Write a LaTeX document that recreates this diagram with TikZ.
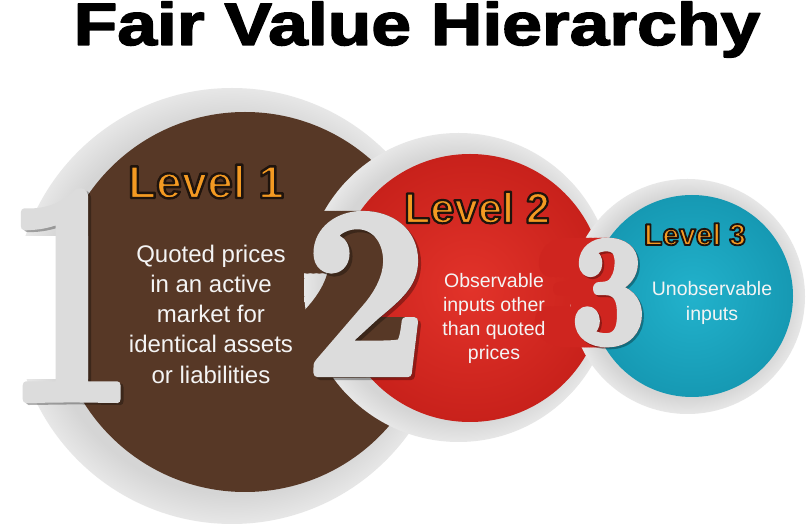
\documentclass[tikz,border=0pt]{standalone}
\usepackage{fontspec}
\usepackage{graphicx}
\newfontfamily\arial{Liberation Sans}
\definecolor{ringgrey}{HTML}{D5D5D5}
\definecolor{ringlight}{HTML}{E7E7E7}
\definecolor{brownc}{HTML}{573826}
\definecolor{redc}{HTML}{E2332A}
\definecolor{redd}{HTML}{C8211B}
\definecolor{redpocket}{HTML}{CF251F}
\definecolor{cyanc}{HTML}{22B2CC}
\definecolor{cyand}{HTML}{1699B3}
\definecolor{lvlorange}{HTML}{F49A22}
\definecolor{digitgrey}{HTML}{DCDCDC}
\definecolor{bodywhite}{HTML}{F4F4F4}
\pgfdeclareradialshading{ringsh}{\pgfpoint{0bp}{0bp}}{color(0bp)=(ringgrey); color(21.5bp)=(ringgrey); color(25bp)=(ringlight); color(50bp)=(ringlight)}
% text drawn with fill and stroke (PDF text render mode 2)
\newcommand\stroked[2]{\special{pdf:literal direct 2 Tr #1 w 1 j}#2\special{pdf:literal direct 0 Tr}}
\newcommand\outlined[3]{\special{pdf:literal direct 2 Tr #1 w 1 j #2 RG}#3\special{pdf:literal direct 0 Tr}}
\newcommand\digA{\scalebox{0.75}[1]{\stroked{8}{1}}}
\newcommand\digB{\scalebox{0.9}[1]{\stroked{8}{2}}}
\newcommand\digC{\scalebox{0.85}[1]{\stroked{8}{3}}}
\tikzset{
  digit/.style={inner sep=0pt, anchor=base, text=digitgrey},
  digitshadow/.style={inner sep=0pt, anchor=base, text=black, opacity=0.3},
  pocket/.style={inner sep=0pt, anchor=base},
  body/.style={inner sep=0pt, align=center, text=bodywhite},
  level/.style={inner sep=0pt, anchor=base, text=lvlorange}
}
\begin{document}
\begin{tikzpicture}[x=1pt,y=-1pt]
\useasboundingbox (0,0) rectangle (812,526);
\fill[white] (0,0) rectangle (812,526);
% centres
\coordinate (r1) at (232,306);
\coordinate (c1) at (245,302);
\coordinate (r2) at (458.5,287.5);
\coordinate (c2) at (470,288);
\coordinate (r3) at (687.5,296.5);
\coordinate (c3) at (692,296);
% ---- circle 1
\shade[shading=ringsh] (r1) circle[radius=218pt];
\fill[brownc] (c1) circle[radius=190pt];
\begin{scope}
  \clip (0,237) rectangle (120,379);
  \foreach \k in {0,...,10} {
    \node[pocket, text=white, font=\fontsize{315}{315}\selectfont\bfseries] (p1\k) at ({70-6*\k},399) {\digA};
  }
\end{scope}
\node[digitshadow, font=\fontsize{315}{315}\selectfont\bfseries] (d1s) at (73,401) {\digA};
\node[digit, font=\fontsize{315}{315}\selectfont\bfseries] (d1) at (70,399) {\digA};
% ---- circle 2
\shade[shading=ringsh] (r2) circle[radius=154.5pt];
\shade[inner color=redc, outer color=redd] (c2) circle[radius=134pt];
\foreach \k in {0,...,9} {
  \node[pocket, text=brownc, font=\fontsize{241}{241}\selectfont\bfseries] (p2\k) at ({366-6*\k},373) {\digB};
}
\node[digitshadow, font=\fontsize{241}{241}\selectfont\bfseries] (d2s) at (369,376) {\digB};
\node[digit, font=\fontsize{241}{241}\selectfont\bfseries] (d2) at (366,373) {\digB};
% ---- circle 3
\shade[shading=ringsh] (r3) circle[radius=117.5pt];
\shade[inner color=cyanc, outer color=cyand] (c3) circle[radius=101pt];
\begin{scope}
  \clip (r3) circle[radius=117.5pt];
  \fill[redpocket] (540,244) rectangle (590,344);
\end{scope}
\foreach \k in {0,...,8} {
  \node[pocket, text=redpocket, font=\fontsize{152}{152}\selectfont\bfseries] (p3\k) at ({608.5-5*\k},341.5) {\digC};
}
\node[digitshadow, font=\fontsize{152}{152}\selectfont\bfseries] (d3s) at (610.5,343.5) {\digC};
\node[digit, font=\fontsize{152}{152}\selectfont\bfseries] (d3) at (608.5,341.5) {\digC};
% ---- title
\node[inner sep=0pt, anchor=base, font=\arial\bfseries\fontsize{60}{60}\selectfont] (title) at (417,45) {\scalebox{1.19}[1]{\stroked{1.4}{Fair Value Hierarchy}}};
% ---- level labels
\node[level, font=\arial\bfseries\fontsize{46}{46}\selectfont] (l1) at (206,198) {\outlined{2.4}{0.12 0.08 0.05}{Level 1}};
\node[level, font=\arial\bfseries\fontsize{43}{43}\selectfont] (l2) at (477,223) {\outlined{2.2}{0.12 0.08 0.05}{Level 2}};
\node[level, font=\arial\bfseries\fontsize{30}{30}\selectfont] (l3) at (695,245) {\outlined{1.8}{0.12 0.08 0.05}{Level 3}};
% ---- body texts
\node[body, font=\arial\fontsize{24}{30.25}\selectfont] (t1) at (211,314) {Quoted prices\\in an active\\market for\\identical assets\\or liabilities};
\node[body, font=\arial\fontsize{19.5}{24.3}\selectfont] (t2) at (494,318.5) {Observable\\inputs other\\than quoted\\prices};
\node[body, font=\arial\fontsize{19.5}{25}\selectfont] (t3) at (712,302.5) {Unobservable\\inputs};
\end{tikzpicture}
\end{document}
